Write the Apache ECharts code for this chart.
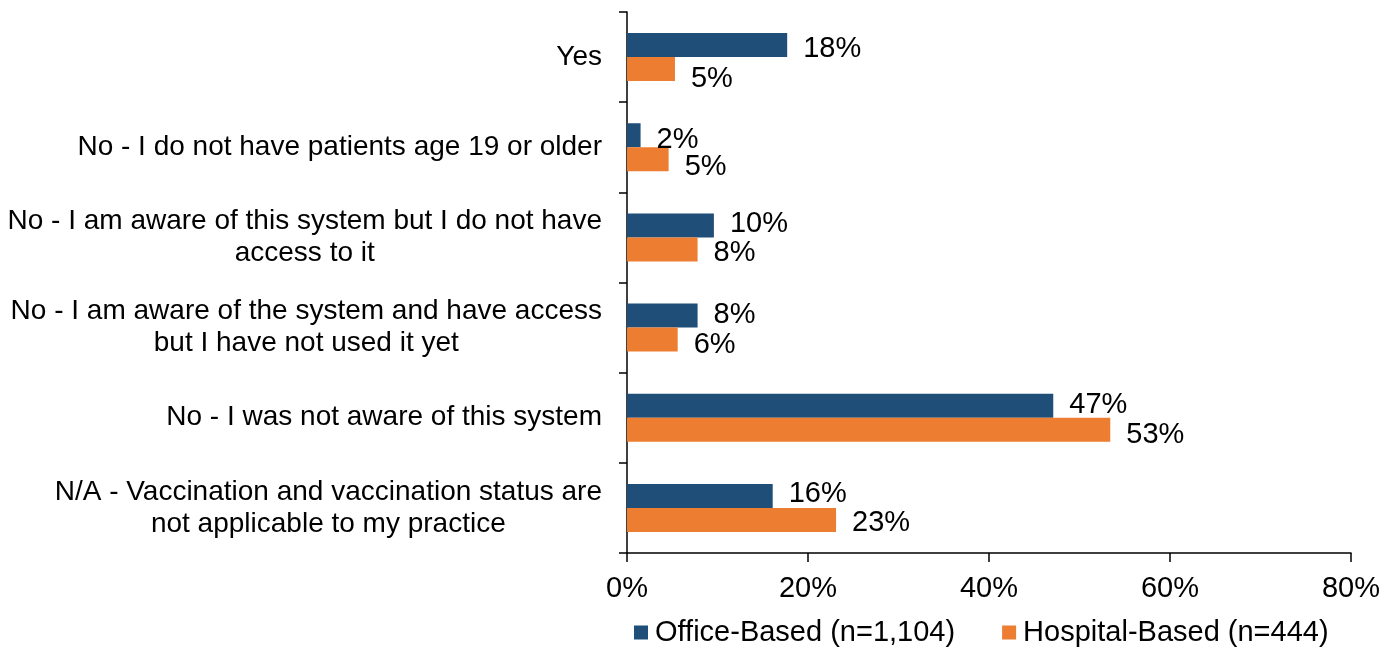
<!DOCTYPE html>
<html>
<head>
<meta charset="utf-8">
<script src="https://cdn.jsdelivr.net/npm/echarts@6/dist/echarts.min.js"></script>
<style>
html,body{margin:0;padding:0;background:#fff;}
#chart{width:1393px;height:648px;}
</style>
</head>
<body>
<div id="chart"></div>
<script>
const categories = [
  'Yes',
  'No - I do not have patients age 19 or older',
  'No - I am aware of this system but I do not have\naccess to it',
  'No - I am aware of the system and have access\nbut I have not used it yet',
  'No - I was not aware of this system',
  'N/A - Vaccination and vaccination status are\nnot applicable to my practice'
];
const seriesNames = ['Office-Based (n=1,104)', 'Hospital-Based (n=444)'];
const officeValues = [17.7, 1.5, 9.6, 7.8, 47.1, 16.1];
const hospitalValues = [5.3, 4.6, 7.8, 5.6, 53.4, 23.1];
const xTicks = { min: 0, max: 80, interval: 20 };

// label vertical nudges (style only, px)
const officeLabelDy = [4, 5, -1, -1, -1, -2];
const hospitalLabelDy = [10, 8, 4, 5, 5, 3];

const FONT = "'Liberation Sans', Arial, sans-serif";
const chart = echarts.init(document.getElementById('chart'));

function labelStyle() {
  return {
    show: true,
    position: 'right',
    distance: 16,
    color: '#000',
    fontSize: 29,
    fontFamily: FONT,
    formatter: p => Math.round(p.value) + '%'
  };
}

function withOffsets(values, dys) {
  return values.map((v, i) => ({ value: v, label: { offset: [0, dys[i]] } }));
}

chart.setOption({
  animation: false,
  backgroundColor: '#fff',
  textStyle: { fontFamily: FONT },
  grid: { left: 627, right: 42, top: 12, bottom: 95, containLabel: false },
  legend: {
    left: 634,
    top: 618,
    padding: 0,
    itemWidth: 14,
    itemHeight: 14,
    itemGap: 47,
    icon: 'rect',
    textStyle: { fontSize: 29, color: '#000', fontFamily: FONT, padding: [0, 0, 0, 2] },
    data: seriesNames
  },
  xAxis: {
    type: 'value',
    min: xTicks.min,
    max: xTicks.max,
    interval: xTicks.interval,
    axisLine: { show: true, lineStyle: { color: '#000', width: 1.5 } },
    axisTick: { show: true, length: 9, lineStyle: { color: '#000', width: 1.5 } },
    splitLine: { show: false },
    axisLabel: {
      formatter: '{value}%',
      fontSize: 29,
      color: '#000',
      fontFamily: FONT,
      margin: 21
    }
  },
  yAxis: {
    type: 'category',
    inverse: true,
    data: categories,
    axisLine: { show: true, lineStyle: { color: '#000', width: 1.5 } },
    axisTick: { show: true, length: 8, lineStyle: { color: '#000', width: 1.5 } },
    axisLabel: {
      margin: 25,
      color: '#000',
      fontSize: 28,
      fontFamily: FONT,
      lineHeight: 32,
      formatter: v => v.split('\n').map(l => '{c|' + l + '}').join('\n'),
      rich: {
        c: { align: 'center', fontSize: 28, lineHeight: 32, color: '#000', fontFamily: FONT }
      }
    }
  },
  series: [
    {
      name: seriesNames[0],
      type: 'bar',
      data: withOffsets(officeValues, officeLabelDy),
      barWidth: 24,
      barGap: '0%',
      itemStyle: { color: '#1F4E79' },
      label: labelStyle()
    },
    {
      name: seriesNames[1],
      type: 'bar',
      data: withOffsets(hospitalValues, hospitalLabelDy),
      barWidth: 24,
      barGap: '0%',
      itemStyle: { color: '#ED7D31' },
      label: labelStyle()
    }
  ]
});
</script>
</body>
</html>
